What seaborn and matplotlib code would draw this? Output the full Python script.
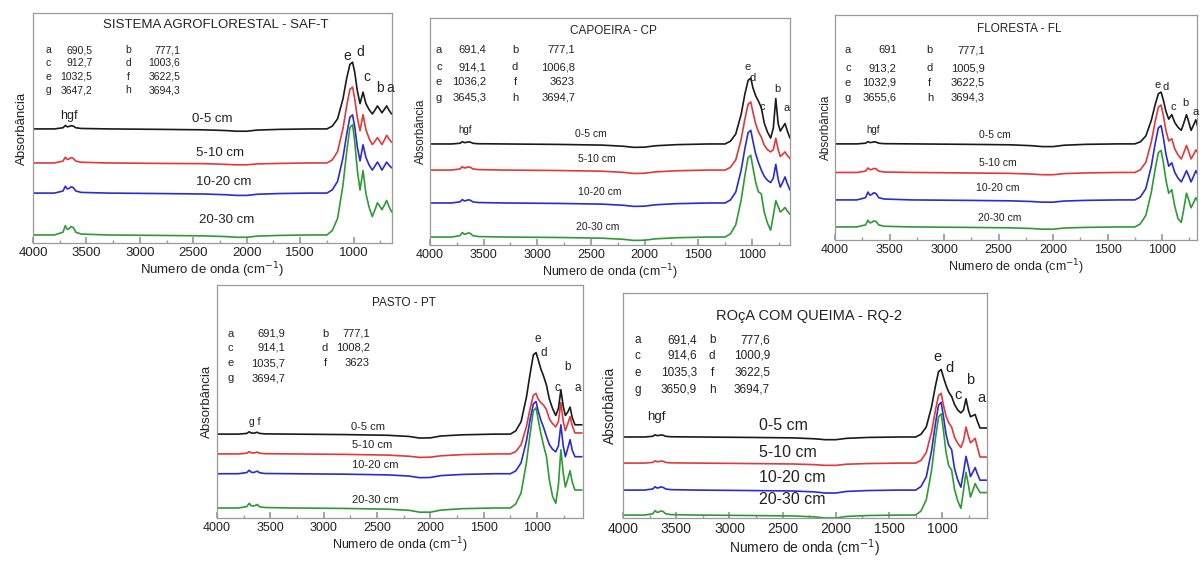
import numpy as np
import matplotlib
matplotlib.use('Agg')
import matplotlib.pyplot as plt
from matplotlib.ticker import MultipleLocator
import seaborn as sns

sns.set_theme(style='white')
plt.rcParams['font.family'] = ['Liberation Sans', 'DejaVu Sans']

# ---------- dados ----------
# numero de onda (cm-1), grade comum
wn = [4000, 3800, 3720, 3698, 3680, 3660, 3645, 3623, 3600, 3550,
      3300, 2800, 2400, 2200, 2100, 2000, 1900, 1700, 1400, 1250,
      1200, 1150, 1100, 1065, 1035, 1010, 990, 965, 940, 912,
      885, 855, 825, 800, 777, 755, 735, 712, 691, 670,
      645, 620, 580]

profundidades = ['0-5 cm', '5-10 cm', '10-20 cm', '20-30 cm']
cores = ['#1a1a1a', '#e0393b', '#2b2bd0', '#2f9a35']

# absorbancia (acima da linha base de cada curva)
saf_titulo = 'SISTEMA AGROFLORESTAL - SAF-T'
saf_0_5 = [0, 0, 0.5, 1.5, 0.9, 1.1, 1.4, 1.2, 0.5, 0.2,
           0, -0.2, -0.4, -0.7, -1.0, -1.0, -0.5, -0.2, 0, 0,
           1.2, 4.4, 13, 22, 28, 29, 24.7, 16.5, 11, 16, 11, 8.4, 6.5, 8.2, 10, 8.5, 7, 8.5, 10, 8.2, 6.5, 6.5, 6.5]
saf_5_10 = [0, 0, 0.8, 2.5, 1.5, 1.8, 2.3, 2.0, 0.8, 0.3,
            0, -0.2, -0.3, -0.6, -0.8, -0.8, -0.4, -0.2, 0, 0,
            1.3, 5, 14.9, 24.8, 32, 33, 28, 19.6, 14, 21, 14.5, 10.6, 8, 9.5, 11, 9.5, 8, 10, 12, 10.5, 9, 9, 9]
saf_10_20 = [0, 0, 0.9, 3, 1.8, 2.1, 2.7, 2.4, 0.9, 0.3,
             0, -0.2, -0.4, -0.7, -1, -1, -0.5, -0.2, 0, 0,
             1.4, 5.1, 15.3, 25.5, 33, 34, 28.9, 20, 14, 21, 15.5, 12.2, 10, 11.8, 13.5, 11.8, 10, 11.8, 13.5, 12.2, 11, 11, 11]
saf_20_30 = [0, 0, 1.2, 4, 2.4, 2.8, 3.6, 3.2, 1.2, 0.4,
             0, -0.2, -0.4, -0.7, -1, -1, -0.5, -0.2, 0, 0,
             1.9, 7.2, 21.6, 36, 46.6, 48, 40.8, 28, 19.5, 28, 18, 12, 8, 11, 14, 12.5, 11, 13, 15, 12.5, 10, 10, 10]
saf_valores = ['690,5', '777,1', '912,7', '1003,6', '1032,5', '3622,5', '3647,2', '3694,3']

cp_titulo = 'CAPOEIRA - CP'
cp_0_5 = [0, 0, 0.3, 1, 0.6, 0.7, 0.9, 0.8, 0.3, 0.1,
          0, -0.2, -0.5, -1.0, -1.5, -1.4, -0.8, -0.3, 0, 0,
          1.2, 4.4, 13, 22, 28, 29, 24.7, 21.3, 19, 16, 9.3, 5.3, 2.6, 7, 20, 9, 5.7, 7.4, 9, 5.8, 2.6, 2.6, 2.6]
cp_5_10 = [0, 0, 0.5, 1.5, 0.9, 1.1, 1.4, 1.2, 0.5, 0.2,
           0, -0.2, -0.5, -1, -1.5, -1.4, -0.8, -0.3, 0, 0,
           1.2, 4.5, 13.5, 22.5, 29, 30, 25.5, 20.4, 17, 14.5, 11, 9, 8, 9, 14, 9, 6, 7, 8, 6.5, 5, 5, 5]
cp_10_20 = [0, 0, 0.5, 1.5, 0.9, 1.1, 1.4, 1.2, 0.5, 0.2,
            0, -0.2, -0.5, -1, -1.5, -1.4, -0.8, -0.3, 0, 0,
            1.3, 4.8, 14.4, 24, 31, 32, 27.2, 21.7, 18, 14.5, 11.8, 10, 9, 11, 17, 10.5, 7, 9.2, 11.5, 8.6, 5.7, 5.7, 5.7]
cp_20_30 = [0, 0, 0.6, 2, 1.2, 1.4, 1.8, 1.6, 0.6, 0.2,
            0, -0.2, -0.5, -1, -1.5, -1.4, -0.8, -0.3, 0, 0,
            1.4, 5.4, 16.2, 27, 35, 36, 30.6, 24.2, 20, 19, 11, 6.2, 3, 9.5, 16, 13.5, 11, 12, 13, 11.5, 10, 10, 10]
cp_valores = ['691,4', '777,1', '914,1', '1006,8', '1036,2', '3623', '3645,3', '3694,7']

fl_titulo = 'FLORESTA - FL'
fl_0_5 = [0, 0, 0.3, 1, 0.6, 0.7, 0.9, 0.8, 0.3, 0.1,
          0, -0.2, -0.4, -0.8, -1.2, -1.2, -0.6, -0.2, 0, 0,
          0.9, 3.5, 10.4, 17.3, 22.3, 23, 19.6, 14.4, 11, 13, 9.5, 7.4, 6, 9.5, 13, 9.5, 6, 8.4, 10.7, 6.9, 3, 3, 3]
fl_5_10 = [0, 0, 0.6, 2, 1.2, 1.4, 1.8, 1.6, 0.6, 0.2,
           0, -0.2, -0.4, -0.7, -1, -1, -0.5, -0.2, 0, 0,
           1.2, 4.5, 13.5, 22.5, 29, 30, 25.5, 18.6, 14, 15, 10.5, 7.8, 6, 9, 12, 9, 6, 8, 10, 8.5, 7, 7, 7]
fl_10_20 = [0, 0, 1, 3.5, 2.1, 2.5, 3.2, 2.8, 1, 0.4,
            0, -0.2, -0.4, -0.7, -1, -1, -0.5, -0.2, 0, 0,
            1.3, 5, 14.9, 24.8, 32, 33, 28, 20.2, 15, 16.5, 12.3, 9.7, 8, 10.5, 13, 10.5, 8, 10.5, 13, 11, 9, 9, 9]
fl_20_30 = [0, 0, 0.9, 3, 1.8, 2.1, 2.7, 2.4, 0.9, 0.3,
            0, -0.2, -0.4, -0.7, -1, -1, -0.5, -0.2, 0, 0,
            1.4, 5.1, 15.3, 25.5, 33, 34, 28.9, 20.6, 15, 16.5, 9.3, 3.7, 2, 8.5, 15, 11.8, 8.5, 10.8, 13, 11, 9, 9, 9]
fl_valores = ['691', '777,1', '913,2', '1005,9', '1032,9', '3622,5', '3655,6', '3694,3']

pt_titulo = 'PASTO - PT'
pt_0_5 = [0, 0, 0.3, 1, 0.5, 0.4, 0.5, 0.8, 0.3, 0.1,
          0, -0.2, -0.5, -1.0, -1.7, -1.6, -0.8, -0.3, 0, 0,
          1.4, 5.3, 15.8, 26, 34, 35, 32, 28, 25, 21, 15, 11, 8, 11, 19, 12, 8, 9.5, 11.6, 7, 4, 4, 4]
pt_5_10 = [0, 0, 0.3, 1, 0.5, 0.4, 0.5, 0.8, 0.3, 0.1,
           0, -0.2, -0.5, -1.0, -1.5, -1.4, -0.8, -0.3, 0, 0,
           1, 4, 11.7, 19.5, 25.2, 26, 23.5, 22, 21, 19, 15, 13, 11.6, 14, 22, 14, 10, 13, 16, 12, 9, 9, 9]
pt_10_20 = [0, 0, 0.5, 1.5, 0.7, 0.5, 0.7, 1.1, 0.4, 0.1,
            0, -0.2, -0.5, -1, -1.7, -1.6, -0.8, -0.3, 0, 0,
            1.2, 4.7, 14, 23.3, 30, 31, 27, 23, 20, 16, 12.5, 10.5, 9.4, 12, 21, 12, 7.3, 11, 14.6, 10, 7.3, 7.3, 7.3]
pt_20_30 = [0, 0, 0.6, 2, 1, 0.8, 1, 1.5, 0.5, 0.2,
            0, -0.2, -0.5, -1, -1.8, -1.8, -0.9, -0.3, 0, 0,
            1.7, 6.5, 19.4, 32, 41.7, 43, 38, 32, 27, 22, 12, 5, 2, 10, 25, 15, 9, 12.5, 16, 11, 7.7, 7.7, 7.7]
pt_valores = ['691,9', '777,1', '914,1', '1008,2', '1035,7', '3623', '3694,7']

rq_titulo = 'ROçA COM QUEIMA - RQ-2'
rq_0_5 = [0, 0, 0.3, 1, 0.6, 0.7, 0.9, 0.8, 0.3, 0.1,
          0, -0.2, -0.4, -0.8, -1.2, -1.2, -0.6, -0.2, 0, 0,
          1.2, 4.5, 13.5, 22.5, 29, 30, 26.7, 23, 20, 18, 14.5, 12, 10.7, 12, 17, 12, 9, 9.5, 10, 7, 4, 4, 4]
rq_5_10 = [0, 0, 0.3, 1, 0.6, 0.7, 0.9, 0.8, 0.3, 0.1,
           0, -0.2, -0.4, -0.7, -1, -1, -0.5, -0.2, 0, 0,
           1.2, 4.7, 14, 23.3, 30, 31, 26, 21, 18, 16, 11.5, 8.8, 7, 10, 16, 12, 9, 10, 11, 7, 2.7, 2.7, 2.7]
rq_10_20 = [0, 0, 0.5, 1.5, 0.9, 1.1, 1.4, 1.2, 0.5, 0.2,
            0, -0.2, -0.4, -0.8, -1.3, -1.3, -0.6, -0.2, 0, 0,
            1.6, 5.9, 17.6, 29.3, 37.8, 39, 33, 25, 20, 18, 9.6, 4.6, 1.3, 8, 15, 10.5, 6, 8, 10, 7.2, 4.4, 4.4, 4.4]
rq_20_30 = [0, 0, 0.6, 2, 1.2, 1.4, 1.8, 1.6, 0.6, 0.2,
            0, -0.2, -0.4, -0.8, -1.3, -1.3, -0.6, -0.2, 0, 0,
            1.8, 6.8, 20, 33.8, 43.6, 45, 38, 28, 22, 20, 11.5, 6.4, 3, 11, 19, 13.5, 8, 11, 14, 12, 10, 10, 10]
rq_valores = ['691,4', '777,6', '914,6', '1000,9', '1035,3', '3622,5', '3650,9', '3694,7']

letras = ['a', 'b', 'c', 'd', 'e', 'f', 'g', 'h']

# ---------- layout de cada painel ----------
paineis = [
    dict(titulo=saf_titulo, curvas=[saf_0_5, saf_5_10, saf_10_20, saf_20_30], valores=saf_valores,
         rect=[0.0275, 0.5676, 0.2987, 0.4093], xmax=640, base=[49.6, 34.8, 21.7, 3.5],
         fs_tit=9.5, fs_tab=7.5, fs_prof=9.5, fs_pico=10, fs_eixo=9.5, fs_y=9.5, ypad=4,
         tab_x=[0.042, 0.165, 0.265, 0.41], tab_y=[0.839, 0.783, 0.722, 0.665], tit_y=0.975,
         prof=[(0.5, 0.54), (0.52, 0.39), (0.53, 0.265), (0.54, 0.10)],
         picos=[('e', 0.875, 0.815), ('d', 0.91, 0.83), ('c', 0.93, 0.72), ('b', 0.965, 0.675), ('a', 0.995, 0.675)],
         oh=('hgf', 0.10, 0.55)),
    dict(titulo=cp_titulo, curvas=[cp_0_5, cp_5_10, cp_10_20, cp_20_30], valores=cp_valores,
         rect=[0.3577, 0.5641, 0.2995, 0.4039], xmax=645, base=[44.5, 33, 18.5, 3.5],
         fs_tit=8.5, fs_tab=8, fs_prof=7.5, fs_pico=8, fs_eixo=9, fs_y=8.5, ypad=2,
         tab_x=[0.025, 0.156, 0.236, 0.403], tab_y=[0.859, 0.784, 0.718, 0.648], tit_y=0.97,
         prof=[(0.447, 0.49), (0.463, 0.38), (0.472, 0.233), (0.467, 0.08)],
         picos=[('e', 0.883, 0.784), ('d', 0.895, 0.735), ('c', 0.923, 0.61), ('b', 0.964, 0.685), ('a', 0.99, 0.605)],
         oh=('hgf', 0.097, 0.505)),
    dict(titulo=fl_titulo, curvas=[fl_0_5, fl_5_10, fl_10_20, fl_20_30], valores=fl_valores,
         rect=[0.6947, 0.573, 0.3012, 0.4004], xmax=680, base=[42.7, 30, 17.8, 5.8],
         fs_tit=8.5, fs_tab=8, fs_prof=7.5, fs_pico=8, fs_eixo=9, fs_y=8.5, ypad=2,
         tab_x=[0.036, 0.17, 0.262, 0.414], tab_y=[0.844, 0.764, 0.698, 0.631], tit_y=0.965,
         prof=[(0.442, 0.467), (0.45, 0.342), (0.45, 0.231), (0.455, 0.098)],
         picos=[('e', 0.892, 0.69), ('d', 0.912, 0.68), ('c', 0.934, 0.59), ('b', 0.967, 0.609), ('a', 0.995, 0.569)],
         oh=('hgf', 0.105, 0.49)),
    dict(titulo=pt_titulo, curvas=[pt_0_5, pt_5_10, pt_10_20, pt_20_30], valores=pt_valores,
         rect=[0.1805, 0.0783, 0.3045, 0.4146], xmax=570, base=[36, 27.5, 19, 4.3],
         fs_tit=8.5, fs_tab=8, fs_prof=8, fs_pico=8.5, fs_eixo=9, fs_y=9.5, ypad=3,
         tab_x=[0.036, 0.186, 0.295, 0.418], tab_y=[0.79, 0.73, 0.665, 0.60], tit_y=0.95,
         prof=[(0.413, 0.39), (0.423, 0.313), (0.432, 0.227), (0.432, 0.077)],
         picos=[('e', 0.877, 0.77), ('d', 0.892, 0.71), ('c', 0.929, 0.56), ('b', 0.959, 0.65), ('a', 0.986, 0.56)],
         oh=('g f', 0.104, 0.41)),
    dict(titulo=rq_titulo, curvas=[rq_0_5, rq_5_10, rq_10_20, rq_20_30], valores=rq_valores,
         rect=[0.5183, 0.0783, 0.3028, 0.4004], xmax=580, base=[36, 24.4, 12.4, 1.3],
         fs_tit=10.5, fs_tab=8.5, fs_prof=11.5, fs_pico=10.5, fs_eixo=10, fs_y=10, ypad=4,
         tab_x=[0.04, 0.203, 0.245, 0.404], tab_y=[0.79, 0.72, 0.645, 0.57], tit_y=0.93,
         prof=[(0.44, 0.413), (0.453, 0.293), (0.464, 0.178), (0.464, 0.08)],
         picos=[('e', 0.865, 0.716), ('d', 0.898, 0.667), ('c', 0.92, 0.547), ('b', 0.953, 0.613), ('a', 0.986, 0.533)],
         oh=('hgf', 0.093, 0.449)),
]

cinza = '#9a9a9a'
fig = plt.figure(figsize=(12.02, 5.62), dpi=100)

for p in paineis:
    ax = fig.add_axes(p['rect'])
    # verde atras, preto na frente
    for curva, cor, off in reversed(list(zip(p['curvas'], cores, p['base']))):
        sns.lineplot(x=wn, y=np.array(curva) + off, color=cor, lw=1.2, ax=ax, sort=False)

    ax.set_xlim(4000, p['xmax'])
    ax.set_ylim(0, 100)
    ax.set_yticks([])
    ax.xaxis.set_major_locator(MultipleLocator(500))
    ax.xaxis.set_minor_locator(MultipleLocator(250))
    ax.tick_params(axis='x', which='both', direction='in', bottom=True, color=cinza,
                   labelsize=p['fs_eixo'], labelcolor='#222222', pad=3)
    ax.tick_params(axis='x', which='major', length=4)
    ax.tick_params(axis='x', which='minor', length=2)
    for s in ax.spines.values():
        s.set_color(cinza)
        s.set_linewidth(0.9)

    ax.set_xlabel('Numero de onda (cm$^{-1}$)', fontsize=p['fs_eixo'], color='#222222', labelpad=1)
    ax.set_ylabel('Absorbância', fontsize=p['fs_y'], color='#222222', labelpad=p['ypad'])

    tr = ax.transAxes
    ax.text(0.51, p['tit_y'], p['titulo'], transform=tr, ha='center', va='top',
            fontsize=p['fs_tit'], color='#222222')

    # tabela de picos
    lx, vx, lx2, vx2 = p['tab_x']
    for i, (let, val) in enumerate(zip(letras, p['valores'])):
        linha, col = divmod(i, 2)
        y = p['tab_y'][linha]
        ax.text(lx if col == 0 else lx2, y, let, transform=tr, ha='center', va='center',
                fontsize=p['fs_tab'], color='#222222')
        ax.text(vx if col == 0 else vx2, y, val, transform=tr, ha='right', va='center',
                fontsize=p['fs_tab'], color='#222222')

    for rot, (x, y) in zip(profundidades, p['prof']):
        ax.text(x, y, rot, transform=tr, ha='center', va='center', fontsize=p['fs_prof'], color='#222222')

    for let, x, y in p['picos']:
        ax.text(x, y, let, transform=tr, ha='center', va='center', fontsize=p['fs_pico'], color='#222222')
    oh, x, y = p['oh']
    ax.text(x, y, oh, transform=tr, ha='center', va='center', fontsize=p['fs_pico'] - 1, color='#222222')

fig.savefig('out.png', dpi=100, facecolor='white')
